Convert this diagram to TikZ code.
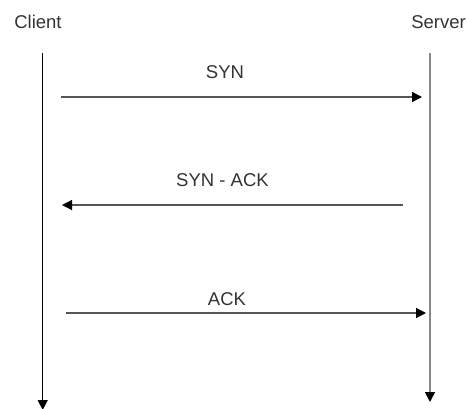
\documentclass[tikz,border=0pt]{standalone}
\usepackage{fontspec}
\setmainfont{Liberation Sans}
\usetikzlibrary{arrows.meta}
\definecolor{txt}{HTML}{333333}
\definecolor{msg}{HTML}{555555}
\definecolor{srv}{HTML}{888888}
\tikzset{
  lbl/.style={inner sep=0pt, anchor=base, text=txt, font=\fontsize{18.5}{20}\selectfont},
  tip/.style={-{Triangle[length=10pt,width=10pt,color=black]}},
  msgline/.style={tip, draw=msg, line width=1.4pt},
}
\begin{document}
\begin{tikzpicture}[x=1pt,y=-1pt]
\useasboundingbox (0,0) rectangle (468,408);
% lifelines
\coordinate (ctop) at (42.7,53);
\coordinate (cbot) at (42.7,410);
\coordinate (stop) at (430,53);
\coordinate (sbot) at (430,402);
\node[lbl] (client) at (38,28) {Client};
\node[lbl] (server) at (438.5,28) {Server};
\draw[tip, black, line width=1.3pt] (ctop) -- (cbot);
\draw[tip, draw=srv, line width=1.7pt] (stop) -- (sbot);
% messages
\coordinate (syna) at (61,97);
\coordinate (synb) at (422,97);
\coordinate (acka) at (403,205);
\coordinate (ackb) at (62,205);
\coordinate (fina) at (66,313);
\coordinate (finb) at (426,313);
\draw[msgline] (syna) -- (synb);
\draw[msgline] (acka) -- (ackb);
\draw[msgline] (fina) -- (finb);
\node[lbl] (lsyn) at (225,78) {SYN};
\node[lbl] (lsynack) at (222.5,186) {SYN - ACK};
\node[lbl] (lack) at (227,305) {ACK};
\end{tikzpicture}
\end{document}
